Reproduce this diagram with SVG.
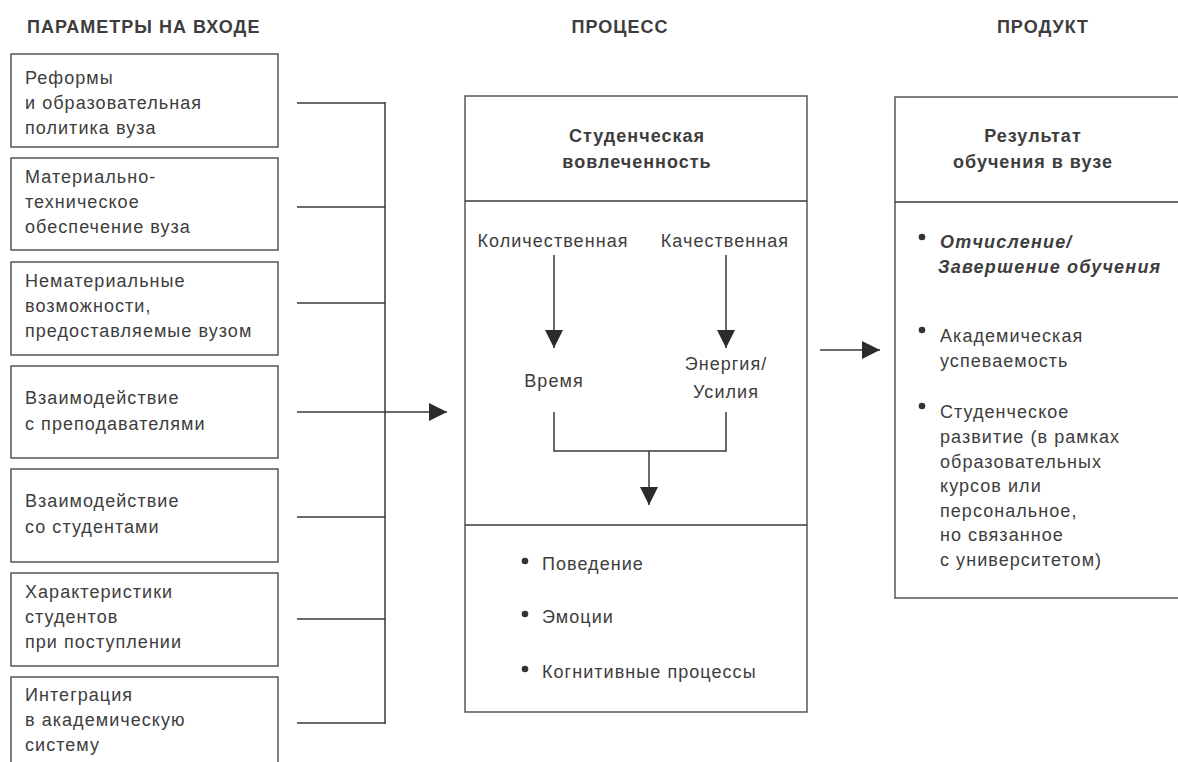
<svg xmlns="http://www.w3.org/2000/svg" width="1178" height="762" viewBox="0 0 1178 762">
<defs>
<style>
text{font-family:"Liberation Sans",Arial,sans-serif;fill:#3d3d3d;}
.t{font-size:18px;letter-spacing:1.05px;}
.h{font-size:18px;font-weight:bold;letter-spacing:1px;}
.hc{font-size:18px;font-weight:bold;letter-spacing:1px;text-anchor:middle;}
.bi{font-size:18px;font-weight:bold;font-style:italic;letter-spacing:1.2px;}
.c{text-anchor:middle;}
.box{fill:#fff;stroke:#555;stroke-width:1.5;}
.ln{fill:none;stroke:#3a3a3a;stroke-width:1.5;}
.dot{fill:#333;}
</style>
<marker id="ah" markerWidth="20" markerHeight="20" refX="18" refY="10" orient="auto" markerUnits="userSpaceOnUse">
<path d="M0,1 L18,10 L0,19 Z" fill="#2b2b2b"/>
</marker>
</defs>
<rect width="1178" height="762" fill="#fff"/>

<g id="titles">
<text class="h" x="27" y="33">ПАРАМЕТРЫ НА ВХОДЕ</text>
<text class="hc" x="620" y="33">ПРОЦЕСС</text>
<text class="hc" x="1043" y="33">ПРОДУКТ</text>
</g>

<g id="in1"><rect class="box" x="11" y="54" width="267" height="93"/>
<text class="t" x="25" y="84">Реформы</text><text class="t" x="25" y="109">и образовательная</text><text class="t" x="25" y="134">политика вуза</text></g>
<g id="in2"><rect class="box" x="11" y="158" width="267" height="92"/>
<text class="t" x="25" y="183">Материально-</text><text class="t" x="25" y="208">техническое</text><text class="t" x="25" y="233">обеспечение вуза</text></g>
<g id="in3"><rect class="box" x="11" y="262" width="267" height="93"/>
<text class="t" x="25" y="287">Нематериальные</text><text class="t" x="25" y="312">возможности,</text><text class="t" x="25" y="337">предоставляемые вузом</text></g>
<g id="in4"><rect class="box" x="11" y="366" width="267" height="92"/>
<text class="t" x="25" y="404">Взаимодействие</text><text class="t" x="25" y="430">с преподавателями</text></g>
<g id="in5"><rect class="box" x="11" y="469" width="267" height="93"/>
<text class="t" x="25" y="507">Взаимодействие</text><text class="t" x="25" y="533">со студентами</text></g>
<g id="in6"><rect class="box" x="11" y="573" width="267" height="93"/>
<text class="t" x="25" y="598">Характеристики</text><text class="t" x="25" y="623">студентов</text><text class="t" x="25" y="648">при поступлении</text></g>
<g id="in7"><rect class="box" x="11" y="677" width="267" height="100"/>
<text class="t" x="25" y="701">Интеграция</text><text class="t" x="25" y="726">в академическую</text><text class="t" x="25" y="751">систему</text></g>

<g id="process">
<rect class="box" x="465" y="96" width="342" height="616"/>
<line class="ln" x1="465" y1="201" x2="807" y2="201"/>
<line class="ln" x1="465" y1="525" x2="807" y2="525"/>
<text class="hc" x="637" y="142">Студенческая</text>
<text class="hc" x="637" y="168">вовлеченность</text>
<text class="t c" x="553" y="247">Количественная</text>
<text class="t c" x="725" y="247">Качественная</text>
<text class="t c" x="554" y="387">Время</text>
<text class="t c" x="726" y="370">Энергия/</text>
<text class="t c" x="726" y="398">Усилия</text>
<circle class="dot" cx="525" cy="561" r="3.3"/><text class="t" x="542" y="570">Поведение</text>
<circle class="dot" cx="525" cy="614" r="3.3"/><text class="t" x="542" y="623">Эмоции</text>
<circle class="dot" cx="525" cy="669" r="3.3"/><text class="t" x="542" y="678">Когнитивные процессы</text>
</g>

<g id="product">
<rect class="box" x="895" y="97" width="300" height="501"/>
<line class="ln" x1="895" y1="202" x2="1190" y2="202"/>
<text class="hc" x="1033" y="142">Результат</text>
<text class="hc" x="1033" y="168">обучения в вузе</text>
<circle class="dot" cx="922" cy="237" r="3.3"/>
<text class="bi" x="940" y="248">Отчисление/</text>
<text class="bi" x="938" y="273">Завершение обучения</text>
<circle class="dot" cx="922" cy="330" r="3.3"/>
<text class="t" x="940" y="342">Академическая</text>
<text class="t" x="940" y="367">успеваемость</text>
<circle class="dot" cx="922" cy="406" r="3.3"/>
<text class="t" x="940" y="418">Студенческое</text>
<text class="t" x="940" y="443">развитие (в рамках</text>
<text class="t" x="940" y="468">образовательных</text>
<text class="t" x="940" y="492">курсов или</text>
<text class="t" x="940" y="517">персональное,</text>
<text class="t" x="940" y="541">но связанное</text>
<text class="t" x="940" y="566">с университетом)</text>
</g>

<g id="connectors">
<line class="ln" x1="297" y1="103" x2="385" y2="103"/>
<line class="ln" x1="297" y1="207" x2="385" y2="207"/>
<line class="ln" x1="297" y1="303" x2="385" y2="303"/>
<line class="ln" x1="297" y1="517" x2="385" y2="517"/>
<line class="ln" x1="297" y1="619" x2="385" y2="619"/>
<line class="ln" x1="297" y1="723" x2="385" y2="723"/>
<line class="ln" x1="385" y1="102" x2="385" y2="724"/>
<line class="ln" x1="297" y1="412" x2="447" y2="412" marker-end="url(#ah)"/>
<line class="ln" x1="554" y1="255" x2="554" y2="348" marker-end="url(#ah)"/>
<line class="ln" x1="726" y1="255" x2="726" y2="348" marker-end="url(#ah)"/>
<polyline class="ln" points="554,412 554,451 726,451 726,412"/>
<line class="ln" x1="649" y1="451" x2="649" y2="505" marker-end="url(#ah)"/>
<line class="ln" x1="820" y1="350" x2="880" y2="350" marker-end="url(#ah)"/>
</g>
</svg>
